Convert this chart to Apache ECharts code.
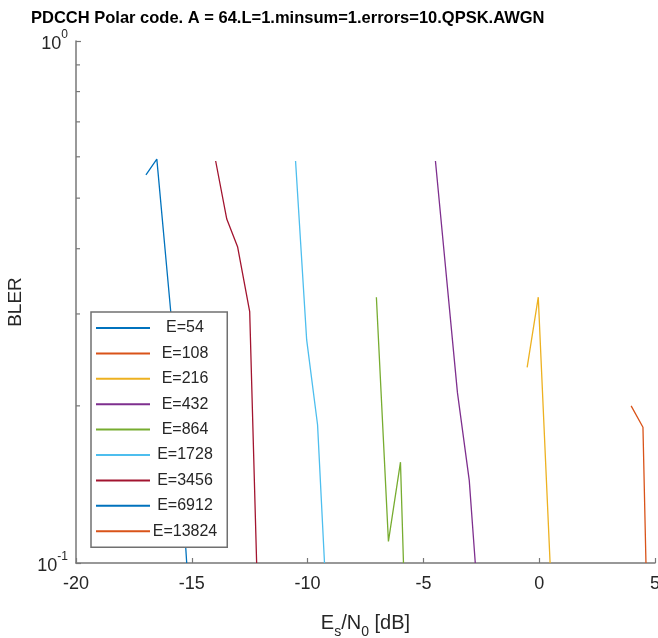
<!DOCTYPE html>
<html>
<head>
<meta charset="utf-8">
<script src="https://cdn.jsdelivr.net/npm/echarts@6/dist/echarts.min.js"></script>
<style>html,body{margin:0;padding:0;background:#fff;}#c{width:658px;height:638px;}</style>
</head>
<body>
<div id="c"></div>
<script>
// ---- data ----
const seriesNames = ['E=54','E=108','E=216','E=432','E=864','E=1728','E=3456','E=6912','E=13824'];
const e54    = [[-16.98,0.554],[-16.51,0.594],[-15.9,0.30],[-15.22,0.1]];
const e108   = [[3.97,0.200],[4.48,0.182],[4.61,0.1]];
const e216   = [[-0.52,0.237],[-0.04,0.323],[0.47,0.1]];
const e432   = [[-4.48,0.589],[-3.53,0.212],[-3.02,0.144],[-2.76,0.1]];
const e864   = [[-7.03,0.323],[-6.51,0.110],[-5.99,0.156],[-5.86,0.1]];
const e1728  = [[-10.52,0.589],[-10.04,0.2675],[-9.57,0.184],[-9.27,0.1]];
const e3456  = [[-13.97,0.589],[-13.49,0.456],[-13.02,0.403],[-12.5,0.303],[-12.2,0.1]];
const e6912  = [];
const e13824 = [];
const xTicks = [-20,-15,-10,-5,0,5];
const yMinorTicks = [0.2,0.3,0.4,0.5,0.6,0.7,0.8,0.9];
const titleText = 'PDCCH Polar code. A = 64.L=1.minsum=1.errors=10.QPSK.AWGN';

const colors = ['#0072BD','#D95319','#EDB120','#7E2F8E','#77AC30','#4DBEEE','#A2142F','#0072BD','#D95319'];
const allData = [e54,e108,e216,e432,e864,e1728,e3456,e6912,e13824];
const axisColor = '#777777';
const textColor = '#262626';
const font = 'Liberation Sans, Arial, sans-serif';

const chart = echarts.init(document.getElementById('c'), null, {renderer:'canvas'});

const lineSeries = seriesNames.map((n,i)=>({
  name:n, type:'line', data:allData[i], symbol:'none', showSymbol:false,
  lineStyle:{width:1.3,color:colors[i]}, itemStyle:{color:colors[i]},
  clip:true, animation:false, z:2
}));

const minorTickSeries = {
  type:'custom', silent:true, animation:false, z:3,
  data: yMinorTicks.map(v=>[xTicks[0], v]),
  renderItem:(params, api)=>{
    const p = api.coord([api.value(0), api.value(1)]);
    return {type:'line', shape:{x1:p[0], y1:p[1], x2:p[0]+4, y2:p[1]},
            style:{stroke:axisColor, lineWidth:1.2}};
  }
};

chart.setOption({
  animation:false,
  color:colors,
  title:{text:titleText, left:26, top:5,
    textStyle:{fontFamily:font, fontWeight:'bold', fontSize:16.5, color:'#000'}},
  grid:{left:76, right:3, top:41, bottom:75, containLabel:false, outerBoundsMode:'none'},
  xAxis:{type:'value', min:xTicks[0], max:xTicks[xTicks.length-1], interval:5,
    axisLine:{show:true, onZero:false, lineStyle:{color:axisColor, width:1.5}},
    axisTick:{show:true, inside:true, length:5, lineStyle:{color:axisColor, width:1.2}},
    splitLine:{show:false},
    axisLabel:{color:textColor, fontFamily:font, fontSize:18, margin:12},
    name:'{m|E}{s|s}{m|/N}{s|0}{m| [dB]}', nameLocation:'middle', nameGap:42,
    nameTextStyle:{fontFamily:font, color:textColor,
      rich:{m:{fontSize:20, fontFamily:font, color:textColor, lineHeight:28, verticalAlign:'bottom'},
            s:{fontSize:14, fontFamily:font, color:textColor, lineHeight:28, verticalAlign:'bottom', padding:[0,0,-6,0]}}}
  },
  yAxis:{type:'log', logBase:10, min:0.1, max:1,
    axisLine:{show:true, onZero:false, lineStyle:{color:axisColor, width:1.5}},
    axisTick:{show:true, inside:true, length:5, lineStyle:{color:axisColor, width:1.2}},
    splitLine:{show:false}, minorTick:{show:false},
    axisLabel:{margin:8, fontFamily:font, color:textColor,
      formatter:(v)=>'{b|10}{s|'+Math.round(Math.log10(v))+'}',
      rich:{b:{fontSize:18, fontFamily:font, color:textColor, lineHeight:24, verticalAlign:'bottom'},
            s:{fontSize:12, fontFamily:font, color:textColor, lineHeight:24, verticalAlign:'top', padding:[0,0,6,0]}}},
    name:'BLER', nameLocation:'middle', nameGap:51, nameRotate:90,
    nameTextStyle:{fontFamily:font, fontSize:19, color:textColor}
  },
  legend:{show:true, orient:'vertical', left:91, top:312,
    data:seriesNames, icon:'rect', itemWidth:54, itemHeight:2, itemGap:9.4,
    padding:[8,10,8,5], borderColor:'#707070', borderWidth:1.5, backgroundColor:'#fff',
    formatter:'{a|{name}}',
    textStyle:{fontFamily:font, color:textColor,
      rich:{a:{fontSize:16, fontFamily:font, color:textColor, width:60, align:'center', lineHeight:16}}},
    selectedMode:false
  },
  series:[...lineSeries, minorTickSeries]
});
</script>
</body>
</html>
